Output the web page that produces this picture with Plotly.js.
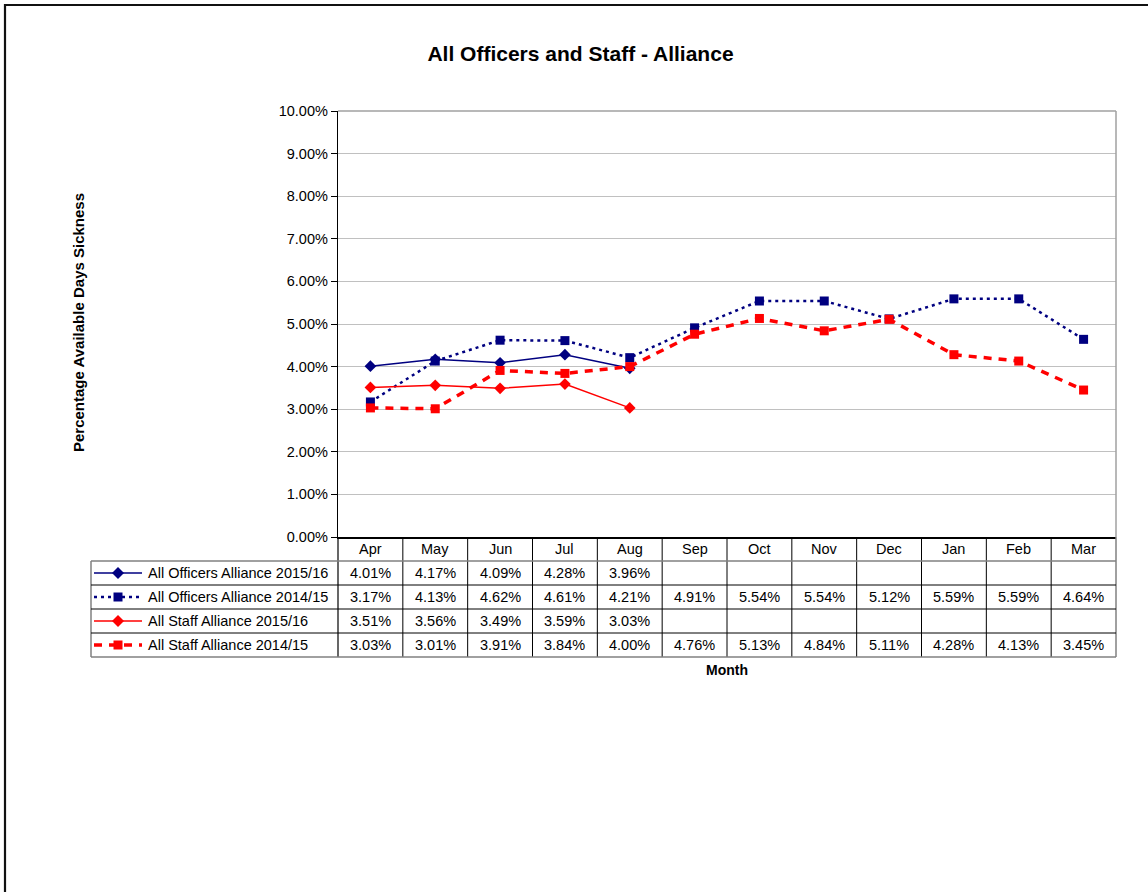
<!DOCTYPE html>
<html>
<head>
<meta charset="utf-8">
<script src="https://cdn.plot.ly/plotly-3.0.1.min.js"></script>
<style>
  html, body { margin: 0; padding: 0; background: #fff; }
  #chart { width: 1148px; height: 892px; }
</style>
</head>
<body>
<div id="chart"></div>
<script>
// Sickness rates by month, in percent of available days
const months = ['Apr', 'May', 'Jun', 'Jul', 'Aug', 'Sep', 'Oct', 'Nov', 'Dec', 'Jan', 'Feb', 'Mar'];
const seriesNames = [
  'All Officers Alliance 2015/16',
  'All Officers Alliance 2014/15',
  'All Staff Alliance 2015/16',
  'All Staff Alliance 2014/15'
];
const officers1516 = [4.01, 4.17, 4.09, 4.28, 3.96];
const officers1415 = [3.17, 4.13, 4.62, 4.61, 4.21, 4.91, 5.54, 5.54, 5.12, 5.59, 5.59, 4.64];
const staff1516 = [3.51, 3.56, 3.49, 3.59, 3.03];
const staff1415 = [3.03, 3.01, 3.91, 3.84, 4.00, 4.76, 5.13, 4.84, 5.11, 4.28, 4.13, 3.45];
const yTickValues = [0, 1, 2, 3, 4, 5, 6, 7, 8, 9, 10];

const FONT = '"Liberation Sans", Arial, Helvetica, sans-serif';
const NAVY = '#000080';
const RED = '#ff0000';

// Plot-area geometry in page pixels
const W = 1148, H = 892;
const PL = 338, PR = 1116, PT = 111, PB = 537;
const px = v => (v - PL) / (PR - PL);
const py = v => (PB - v) / (PB - PT);

const styles = [
  { color: NAVY, dash: 'solid', width: 1.5, symbol: 'diamond', size: 9 },
  { color: NAVY, dash: '3px,4px', width: 2.5, symbol: 'square', size: 9 },
  { color: RED, dash: 'solid', width: 1.5, symbol: 'diamond', size: 9 },
  { color: RED, dash: '8px,7px', width: 3.5, symbol: 'square', size: 9 }
];
const seriesValues = [officers1516, officers1415, staff1516, staff1415];

const traces = seriesValues.map((vals, k) => ({
  type: 'scatter',
  mode: 'lines+markers',
  name: seriesNames[k],
  x: months.slice(0, vals.length),
  y: vals,
  line: { color: styles[k].color, width: styles[k].width, dash: styles[k].dash },
  marker: { color: styles[k].color, symbol: styles[k].symbol, size: styles[k].size, line: { width: 0 } },
  showlegend: false,
  hoverinfo: 'x+y+name'
}));

// Data table geometry (rows below the plot)
const headerTop = PB, headerBottom = 561;
const rowEdges = [561, 585, 609, 633, 657];
const tableLeft = 91;
const INNER = '#000000';
const OUTER = '#808080';

const shapes = [];
const annotations = [];

function hline(x0, x1, y, color, width) {
  shapes.push({ type: 'line', xref: 'paper', yref: 'paper', x0: px(x0), x1: px(x1), y0: py(y), y1: py(y),
    line: { color: color, width: width } });
}
function vlinePaper(x, y0, y1, color, width) {
  shapes.push({ type: 'line', xref: 'paper', yref: 'paper', x0: px(x), x1: px(x), y0: py(y0), y1: py(y1),
    line: { color: color, width: width } });
}

// Outer chart frame (top and left edges)
hline(4, W + 10, 5, '#111', 2.2);
vlinePaper(5, 4, H + 10, '#111', 2.2);

// Plot-area border: top and right
hline(PL, PR, PT, '#a0a0a0', 1.5);
vlinePaper(PR, PT, PB, '#a0a0a0', 1.5);

// Column separators between months (placed on the category axis)
for (let i = 0; i < months.length - 1; i++) {
  shapes.push({ type: 'line', xref: 'x', yref: 'paper', x0: i + 0.5, x1: i + 0.5,
    y0: py(headerTop), y1: py(rowEdges[rowEdges.length - 1]), line: { color: INNER, width: 1 } });
}
// Table edges
vlinePaper(PL, headerTop, rowEdges[rowEdges.length - 1], INNER, 1.2);
vlinePaper(PR, headerTop, rowEdges[rowEdges.length - 1], OUTER, 1.5);
vlinePaper(tableLeft, rowEdges[0], rowEdges[rowEdges.length - 1], OUTER, 1.5);
hline(tableLeft, PR, rowEdges[0], OUTER, 1.5);
for (let r = 1; r < rowEdges.length - 1; r++) hline(tableLeft, PR, rowEdges[r], INNER, 1);
hline(tableLeft, PR, rowEdges[rowEdges.length - 1], OUTER, 1.5);

// Month header labels
months.forEach(m => {
  annotations.push({ xref: 'x', yref: 'paper', x: m, y: py((headerTop + headerBottom) / 2),
    text: m, showarrow: false, xanchor: 'center', yanchor: 'middle',
    font: { family: FONT, size: 14.5, color: '#000' } });
});

// Value cells and legend keys
seriesValues.forEach((vals, k) => {
  const yc = (rowEdges[k] + rowEdges[k + 1]) / 2;
  vals.forEach((v, i) => {
    annotations.push({ xref: 'x', yref: 'paper', x: months[i], y: py(yc),
      text: v.toFixed(2) + '%', showarrow: false, xanchor: 'center', yanchor: 'middle',
      font: { family: FONT, size: 14.5, color: '#000' } });
  });
  const st = styles[k];
  // key line sample
  shapes.push({ type: 'line', xref: 'paper', yref: 'paper', x0: px(94), x1: px(142), y0: py(yc), y1: py(yc),
    line: { color: st.color, width: st.width, dash: st.dash } });
  // key marker
  const cx = 118;
  if (st.symbol === 'diamond') {
    const r = 6;
    shapes.push({ type: 'path', xref: 'paper', yref: 'paper',
      path: `M ${px(cx - r)},${py(yc)} L ${px(cx)},${py(yc - r)} L ${px(cx + r)},${py(yc)} L ${px(cx)},${py(yc + r)} Z`,
      fillcolor: st.color, line: { width: 0 } });
  } else {
    const r = 4.5;
    shapes.push({ type: 'rect', xref: 'paper', yref: 'paper',
      x0: px(cx - r), x1: px(cx + r), y0: py(yc - r), y1: py(yc + r),
      fillcolor: st.color, line: { width: 0 } });
  }
  annotations.push({ xref: 'paper', yref: 'paper', x: px(146), y: py(yc),
    text: seriesNames[k], showarrow: false, xanchor: 'left', yanchor: 'middle',
    font: { family: FONT, size: 14.5, color: '#000' } });
});

// Axis titles
annotations.push({ xref: 'paper', yref: 'paper', x: px(727), y: py(670),
  text: '<b>Month</b>', showarrow: false, xanchor: 'center', yanchor: 'middle',
  font: { family: FONT, size: 14, color: '#000' } });
annotations.push({ xref: 'paper', yref: 'paper', x: px(78), y: py(323),
  text: '<b>Percentage Available Days Sickness</b>', showarrow: false, textangle: -90,
  xanchor: 'center', yanchor: 'middle',
  font: { family: FONT, size: 15, color: '#000' } });

const layout = {
  width: W,
  height: H,
  margin: { l: PL, r: W - PR, t: PT, b: H - PB, pad: 0 },
  paper_bgcolor: '#fff',
  plot_bgcolor: '#fff',
  title: {
    text: '<b>All Officers and Staff - Alliance</b>',
    font: { family: FONT, size: 21, color: '#000' },
    xref: 'container', yref: 'container',
    x: 580.5 / W, y: 1 - 54 / H, xanchor: 'center', yanchor: 'middle'
  },
  xaxis: {
    type: 'category',
    categoryorder: 'array',
    categoryarray: months,
    range: [-0.5, months.length - 0.5],
    showticklabels: false,
    ticks: '',
    showgrid: false,
    zeroline: false,
    showline: true,
    linecolor: '#000',
    linewidth: 2,
    fixedrange: true
  },
  yaxis: {
    range: [0, 10],
    tickvals: yTickValues,
    ticktext: yTickValues.map(v => v.toFixed(2) + '%'),
    ticks: 'outside',
    ticklen: 6,
    tickcolor: '#000',
    tickwidth: 1,
    tickfont: { family: FONT, size: 14.5, color: '#000' },
    showgrid: true,
    gridcolor: '#c0c0c0',
    gridwidth: 1,
    zeroline: false,
    showline: true,
    linecolor: '#000',
    linewidth: 1.2,
    fixedrange: true
  },
  shapes: shapes,
  annotations: annotations,
  showlegend: false
};

Plotly.newPlot('chart', traces, layout, { displayModeBar: false, staticPlot: true });
</script>
</body>
</html>
